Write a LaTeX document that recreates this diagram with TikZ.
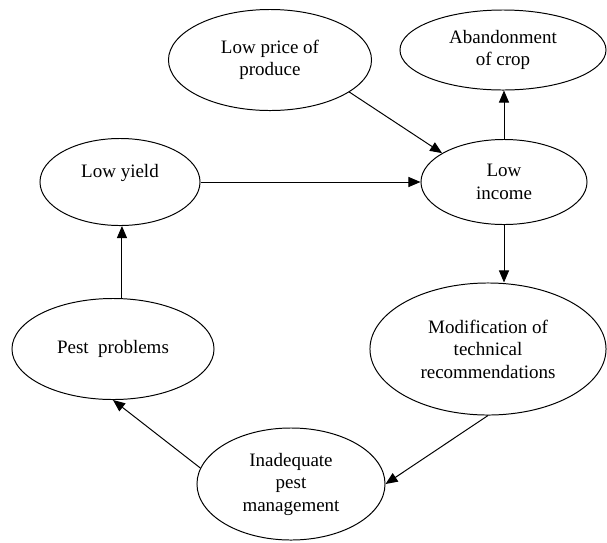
\documentclass[tikz,border=0pt]{standalone}
\usepackage{fontspec}
\setmainfont{Liberation Serif}
\usetikzlibrary{shapes.geometric,arrows.meta}

\begin{document}
\begin{tikzpicture}[x=0.025cm, y=-0.025cm,
  bubble/.style={draw, ellipse, inner sep=0pt, align=center, line width=0.7pt,
    font=\fontsize{13.5}{16}\selectfont},
  arr/.style={line width=0.7pt, -{Triangle[length=3mm,width=2.5mm]}}]
\useasboundingbox (0,0) rectangle (607,542);

\node[bubble, minimum width=5.075cm, minimum height=2.525cm] (price) at (270,60) {Low price of\\produce};
\node[bubble, minimum width=5.15cm, minimum height=2.0cm] (abandon) at (503,50) {Abandonment\\of crop};
\node[bubble, minimum width=4.0cm, minimum height=2.175cm] (yield) at (120,182) {Low yield\\\mbox{}};
\node[bubble, minimum width=4.15cm, minimum height=2.125cm] (income) at (504,182) {Low\\income};
\node[bubble, minimum width=5.9cm, minimum height=3.3cm] (modif) at (488,349) {Modification of\\technical\\recommendations};
\node[bubble, minimum width=5.05cm, minimum height=2.525cm] (pest) at (113,349) {Pest~ problems};
\node[bubble, minimum width=4.7cm, minimum height=2.8cm] (inadequate) at (291,484) {Inadequate\\pest\\management};

\draw[arr] (price.-22) -- (income.155);
\draw[arr] (yield.east) -- (income.west);
\draw[arr] (income.north) -- (income.north |- abandon.south);
\draw[arr] (income.south) -- (income.south |- modif.north);
\draw[arr] (modif.south) -- (inadequate.east);
\draw[arr] (inadequate.170) -- (pest.south);
\draw[arr] (pest.80) -- (pest.80 |- yield.south);

\end{tikzpicture}
\end{document}
